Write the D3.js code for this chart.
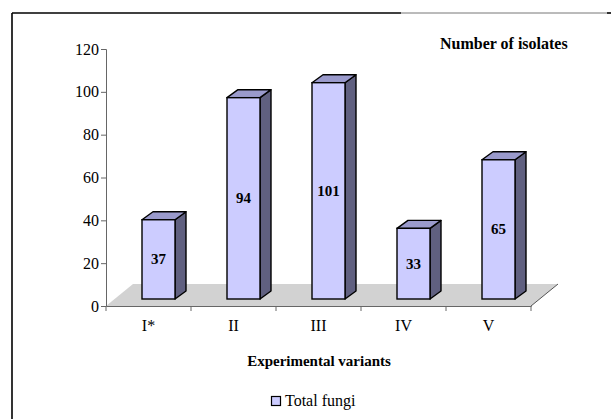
<!DOCTYPE html>
<html>
<head>
<meta charset="utf-8">
<script src="https://cdn.jsdelivr.net/npm/d3@7"></script>
<style>
  html, body { margin: 0; padding: 0; background: #fff; }
  svg { display: block; }
  text { font-family: "Liberation Serif", "Times New Roman", serif; fill: #000; }
</style>
</head>
<body>
<svg id="chart" width="611" height="419"></svg>
<script>
// Number of fungal isolates per experimental variant
const categories = ["I*", "II", "III", "IV", "V"];
const totalFungi = [37, 94, 101, 33, 65];
const yTicks = [0, 20, 40, 60, 80, 100, 120];
const seriesName = "Total fungi";

const svg = d3.select("#chart");

// Plot geometry
const plotLeft = 106, plotRight = 531, plotBase = 306, plotTop = 49;
const floorDepth = { dx: 27, dy: -22 };   // depth of the grey floor
const barShift = { dx: 10, dy: -7 };      // bars stand slightly back on the floor
const barDepth = { dx: 11, dy: -8 };      // thickness of each 3D bar
const barW = 33;

const x = d3.scaleBand().domain(categories).range([plotLeft, plotRight]).paddingInner(0).paddingOuter(0);
const y = d3.scaleLinear().domain([0, 120]).range([plotBase, plotTop]);

// Outer frame (top and left edges)
svg.append("line").attr("x1", 12).attr("y1", 13).attr("x2", 401).attr("y2", 13)
  .attr("stroke", "#000").attr("stroke-width", 1.6);
svg.append("line").attr("x1", 401).attr("y1", 13).attr("x2", 607).attr("y2", 13)
  .attr("stroke", "#777").attr("stroke-width", 1);
svg.append("line").attr("x1", 607).attr("y1", 13).attr("x2", 611).attr("y2", 13)
  .attr("stroke", "#000").attr("stroke-width", 1.6);
svg.append("line").attr("x1", 12).attr("y1", 13).attr("x2", 12).attr("y2", 419)
  .attr("stroke", "#000").attr("stroke-width", 1.6);

// Floor
const x0 = x.range()[0], x1 = x.range()[1];
svg.append("path")
  .attr("d", `M${x0},${plotBase} L${x1},${plotBase} L${x1 + floorDepth.dx},${plotBase + floorDepth.dy} L${x0 + floorDepth.dx},${plotBase + floorDepth.dy} Z`)
  .attr("fill", "#d2d2d2");
svg.append("line")
  .attr("x1", x1).attr("y1", plotBase).attr("x2", x1 + floorDepth.dx).attr("y2", plotBase + floorDepth.dy)
  .attr("stroke", "#555").attr("stroke-width", 1);

// Y axis
const yAxis = d3.axisLeft(y).tickValues(yTicks).tickSize(5).tickPadding(2);
const gy = svg.append("g").attr("transform", `translate(${plotLeft},0)`).call(yAxis);
gy.select(".domain").attr("stroke", "#666");
gy.selectAll(".tick line").attr("stroke", "#666");
gy.selectAll(".tick text").attr("font-size", 16).attr("fill", "#000");

// X axis: labels centred on categories, tick marks at category boundaries
const xAxis = d3.axisBottom(x).tickSize(0).tickPadding(14);
const gx = svg.append("g").attr("transform", `translate(0,${plotBase})`).call(xAxis);
gx.select(".domain").attr("stroke", "#666");
gx.selectAll(".tick text").attr("font-size", 16).attr("fill", "#000");
const bounds = categories.map(c => x(c)).concat([x1]);
gx.selectAll(".bound").data(bounds).join("line").attr("class", "bound")
  .attr("x1", d => d).attr("x2", d => d).attr("y1", 0).attr("y2", 5)
  .attr("stroke", "#666");

// 3D bars
const bars = svg.append("g");
categories.forEach((c, i) => {
  const v = totalFungi[i];
  const fx = x(c) + x.bandwidth() / 2 - barW / 2 + barShift.dx;
  const fb = y(0) + barShift.dy;
  const ft = y(v) + barShift.dy;
  const g = bars.append("g");
  // side face
  g.append("path")
    .attr("d", `M${fx + barW},${fb} L${fx + barW + barDepth.dx},${fb + barDepth.dy} L${fx + barW + barDepth.dx},${ft + barDepth.dy} L${fx + barW},${ft} Z`)
    .attr("fill", "#606080").attr("stroke", "#000").attr("stroke-width", 1.4).attr("stroke-linejoin", "round");
  // top face
  g.append("path")
    .attr("d", `M${fx},${ft} L${fx + barDepth.dx},${ft + barDepth.dy} L${fx + barW + barDepth.dx},${ft + barDepth.dy} L${fx + barW},${ft} Z`)
    .attr("fill", "#9a9acc").attr("stroke", "#000").attr("stroke-width", 1.4).attr("stroke-linejoin", "round");
  // front face
  g.append("rect")
    .attr("x", fx).attr("y", ft).attr("width", barW).attr("height", fb - ft)
    .attr("fill", "#ccccff").attr("stroke", "#000").attr("stroke-width", 1.4);
  // value label
  g.append("text")
    .attr("x", fx + barW / 2).attr("y", (ft + fb) / 2 + 5)
    .attr("text-anchor", "middle").attr("font-weight", "bold").attr("font-size", 15)
    .text(v);
});

// Titles
svg.append("text").attr("x", 440).attr("y", 49)
  .attr("font-weight", "bold").attr("font-size", 16).text("Number of isolates");
svg.append("text").attr("x", 319).attr("y", 366).attr("text-anchor", "middle")
  .attr("font-weight", "bold").attr("font-size", 15).text("Experimental variants");

// Legend
const lg = svg.append("g").attr("transform", "translate(271,396)");
lg.append("rect").attr("x", 0.5).attr("y", 0.5).attr("width", 9).attr("height", 9)
  .attr("fill", "#ccccff").attr("stroke", "#000").attr("stroke-width", 1.2);
lg.append("text").attr("x", 14).attr("y", 10).attr("font-size", 16).text(seriesName);
</script>
</body>
</html>
